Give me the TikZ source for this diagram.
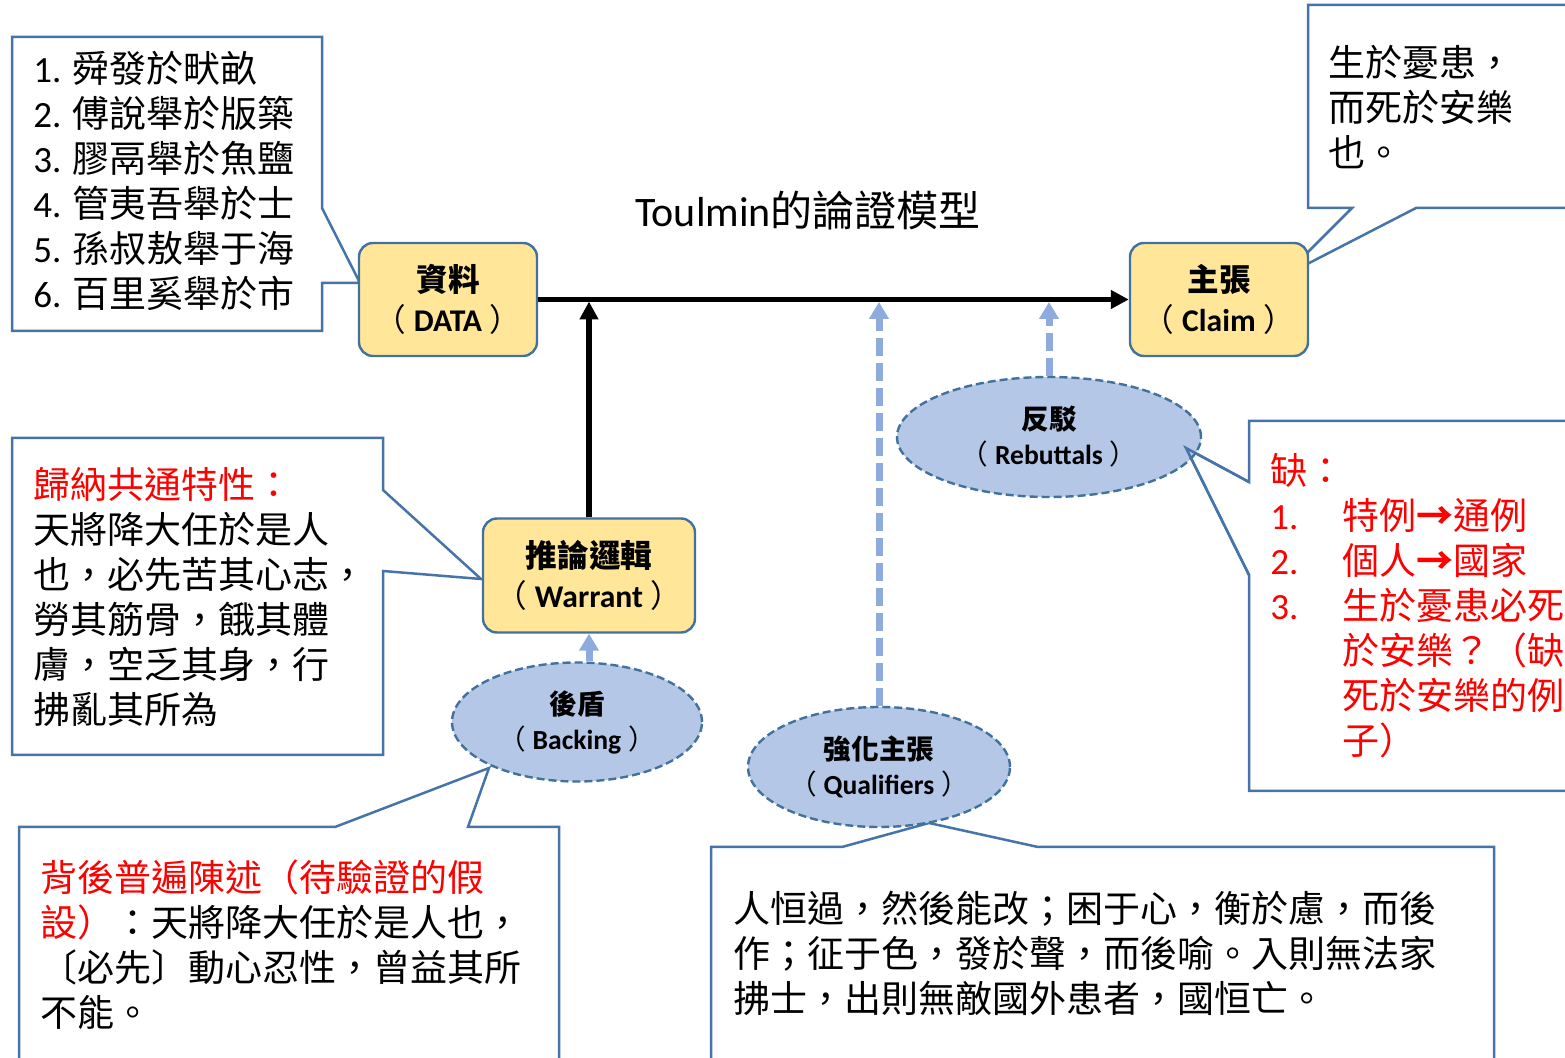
\documentclass[tikz,border=0pt]{standalone}
\usepackage{fontspec}
\setmainfont{Noto Sans CJK TC}
\newfontfamily\lat{Carlito}
\usetikzlibrary{arrows.meta,shapes.geometric}
\definecolor{boxfill}{HTML}{FFE699}
\definecolor{boxline}{HTML}{41719C}
\definecolor{callline}{HTML}{4674A8}
\definecolor{ellfill}{HTML}{B4C7E7}
\definecolor{ellline}{HTML}{41719C}
\definecolor{bluearrow}{HTML}{8FAADC}
\definecolor{redtext}{HTML}{FF0000}
\newcommand{\fstrut}{\rule{0pt}{18pt}}
\newcommand{\lpar}{{\mdseries （}\hspace{0.25em}}
\newcommand{\rpar}{\hspace{0.25em}{\mdseries ）}}
\tikzset{
  callout/.style={draw=callline,line width=1.25pt,fill=white,line join=miter},
  calloutline/.style={draw=callline,line width=1.25pt,line join=miter},
  ctext/.style={anchor=north west,inner sep=0pt,align=left,font=\fontsize{18.5pt}{22.5pt}\selectfont},
  ybox/.style={draw=boxline,line width=1.2pt,fill=boxfill,rounded corners=7pt,
    minimum width=89pt,minimum height=56.5pt,inner sep=0pt,align=center,
    font=\bfseries\fontsize{15.8pt}{20pt}\selectfont},
  bell/.style={ellipse,draw=ellline,line width=1.2pt,dash pattern=on 4pt off 2pt,
    fill=ellfill,inner sep=0pt,align=center,font=\bfseries\fontsize{13.8pt}{17.5pt}\selectfont},
  mainarrow/.style={line width=2.6pt,-{Triangle[length=9pt,width=9pt]}},
  blueflow/.style={draw=bluearrow,line width=3.5pt,-{Triangle[length=8.5pt,width=9.5pt]}},
  bluedash/.style={blueflow,dash pattern=on 9pt off 3.5pt}
}
\begin{document}
\begin{tikzpicture}[x=0.5pt,y=-0.5pt]
\useasboundingbox (0,0) rectangle (1565,1058);

% callout outlines
\path[callout] (12,37) -- (322,37) -- (322,208) -- (360,283) -- (322,283) -- (322,331) -- (12,331) -- cycle;
\path[callout] (1308,5) -- (1590,5) -- (1590,208) -- (1416,208) -- (1284,276) -- (1352,208) -- (1308,208) -- cycle;
\path[callout] (12,438) -- (383,438) -- (383,490) -- (481,579) -- (383,571) -- (383,755) -- (12,755) -- cycle;
\path[callout] (19,827) -- (335,827) -- (489,768) -- (468,827) -- (559,827) -- (559,1080) -- (19,1080) -- cycle;
\path[callout] (1249,421) -- (1590,421) -- (1590,791) -- (1249,791) -- (1249,575) -- (1186,448) -- (1249,482) -- cycle;
\path[callout] (711,847) -- (842,847) -- (929,823) -- (1038,847) -- (1494,847) -- (1494,1080) -- (711,1080) -- cycle;

% callout texts
\node[ctext] (datatext) at (33,46) {\fstrut{\lat 1. }舜發於畎畝\\%
{\lat 2. }傅說舉於版築\\%
{\lat 3. }膠鬲舉於魚鹽\\%
{\lat 4. }管夷吾舉於士\\%
{\lat 5. }孫叔敖舉于海\\%
{\lat 6. }百里奚舉於市};
\node[ctext] (claimtext) at (1328,40) {\fstrut 生於憂患，\\%
而死於安樂\\%
也。};
\node[ctext] (warranttext) at (33,462) {\fstrut\textcolor{redtext}{歸納共通特性：}\\%
天將降大任於是人\\%
也，必先苦其心志，\\%
勞其筋骨，餓其體\\%
膚，空乏其身，行\\%
拂亂其所為};
\node[ctext] (backingtext) at (40,855) {\fstrut\textcolor{redtext}{背後普遍陳述（待驗證的假}\\%
\textcolor{redtext}{設）}：天將降大任於是人也，\\%
〔必先〕動心忍性，曾益其所\\%
不能。};
\node[ctext,text=redtext] (rebuttaltext) at (1270,448) {\fstrut 缺：\\%
\makebox[36pt][l]{\lat 1.}特例{\bfseries →}通例\\%
\makebox[36pt][l]{\lat 2.}個人{\bfseries →}國家\\%
\makebox[36pt][l]{\lat 3.}生於憂患必死\\%
\hspace*{36pt}於安樂？（缺\\%
\hspace*{36pt}死於安樂的例\\%
\hspace*{36pt}子）};
\node[ctext] (qualtext) at (733,886) {\fstrut 人恒過，然後能改；困于心，衡於慮，而後\\%
作；征于色，發於聲，而後喻。入則無法家\\%
拂士，出則無敵國外患者，國恒亡。};

% title
\node[inner sep=0pt,font=\fontsize{21pt}{25pt}\selectfont] (title) at (808,210) {{\lat Toulmin}的論證模型};

% main boxes
\node[ybox] (data) at (448,299.5) {資料\\\lpar{\lat\bfseries DATA}\rpar};
\node[ybox] (claim) at (1219,299.5) {主張\\\lpar{\lat\bfseries Claim}\rpar};
\node[ybox,minimum width=106pt,minimum height=57pt] (warrant) at (589,575.5) {推論邏輯\\\lpar{\lat\bfseries Warrant}\rpar};

% coordinates on the main line
\coordinate (wtop) at (589,301.5);
\coordinate (qtop) at (879,302);
\coordinate (rtop) at (1049,302);

% ellipses
\node[bell,minimum width=125pt,minimum height=59.5pt] (backing) at (577,722) {後盾\\\lpar{\lat\bfseries Backing}\rpar};
\node[bell,minimum width=131pt,minimum height=60pt] (qual) at (879,767) {強化主張\\\lpar{\lat\bfseries Qualifiers}\rpar};
\node[bell,minimum width=152pt,minimum height=60pt] (reb) at (1049,437) {反駁\\\lpar{\lat\bfseries Rebuttals}\rpar};

% connectors
\draw[mainarrow] (data.east) -- (claim.west);
\draw[mainarrow] (warrant.north) -- (wtop);
\draw[blueflow] (backing.north -| warrant.south) -- (warrant.south);
\draw[bluedash] (qual.north) -- (qtop);
\draw[bluedash] (reb.north) -- (rtop);

% rebuttal pointer drawn over the ellipse
\draw[calloutline] (1249,575) -- (1186,448) -- (1249,482);
\end{tikzpicture}
\end{document}
